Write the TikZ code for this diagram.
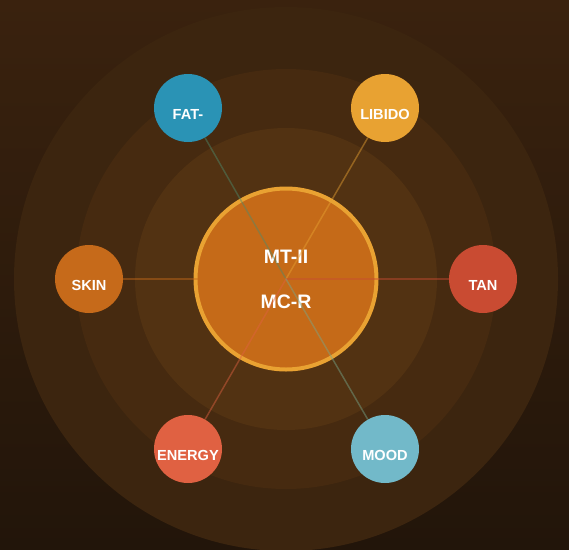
\documentclass[tikz,border=0pt]{standalone}
\usepackage{fontspec}
\setmainfont{Liberation Sans}
\definecolor{bgtop}{HTML}{3A220E}
\definecolor{bgbot}{HTML}{22150A}
\definecolor{ringa}{HTML}{3C250F}
\definecolor{ringb}{HTML}{462A10}
\definecolor{ringc}{HTML}{523212}
\definecolor{hubfill}{HTML}{C56A18}
\definecolor{hubline}{HTML}{E9A232}
\definecolor{fatcol}{HTML}{2A93B5}
\definecolor{libcol}{HTML}{E8A232}
\definecolor{skincol}{HTML}{C66A1A}
\definecolor{tancol}{HTML}{C94B32}
\definecolor{encol}{HTML}{E06142}
\definecolor{moodcol}{HTML}{72B9C9}
\tikzset{
  sat/.style={circle, minimum size=68pt, inner sep=0pt, fill=#1},
  spoke/.style={line width=1.5pt, draw=#1, draw opacity=0.45},
  lbl/.style={text=white, font=\bfseries\fontsize{14.6}{14.6}\selectfont}
}
\begin{document}
\begin{tikzpicture}[x=1pt,y=-1pt]
\shade[top color=bgtop, bottom color=bgbot] (0,0) rectangle (569,549);
\useasboundingbox (0,0) rectangle (569,549);
\fill[ringa] (286,279) circle (272);
\fill[ringb] (286,279) circle (210);
\fill[ringc] (286,279) circle (151);
\node[circle, minimum size=181pt, inner sep=0pt, fill=hubfill, draw=hubline, line width=4pt] (hub) at (286,279){};
\node[lbl, font=\bfseries\fontsize{19.5}{19.5}\selectfont] (mt) at (286,257){MT-II};
\node[lbl, font=\bfseries\fontsize{19.5}{19.5}\selectfont] (mc) at (286,302){MC-R};
\coordinate (c) at (hub.center);
\node[sat=fatcol] (fat) at (188,108){};
\node[sat=libcol] (lib) at (385,108){};
\node[sat=skincol] (skin) at (89,279){};
\node[sat=tancol] (tan) at (483,279){};
\node[sat=encol] (energy) at (188,449){};
\node[sat=moodcol] (mood) at (385,449){};
\draw[spoke=fatcol!60!olive](c) -- (fat);
\draw[spoke=libcol](c) -- (lib);
\draw[spoke=skincol](c) -- (skin);
\draw[spoke=tancol](c) -- (tan);
\draw[spoke=encol](c) -- (energy);
\draw[spoke=moodcol!70!olive](c) -- (mood);
\node[lbl] (fatt) at ([yshift=-6pt]fat.center){FAT-};
\node[lbl] (libt) at ([yshift=-6pt]lib.center){LIBIDO};
\node[lbl] (skint) at ([yshift=-6pt]skin.center){SKIN};
\node[lbl] (tant) at ([yshift=-6pt]tan.center){TAN};
\node[lbl] (ent) at ([yshift=-6pt]energy.center){ENERGY};
\node[lbl] (moodt) at ([yshift=-6pt]mood.center){MOOD};
\end{tikzpicture}
\end{document}
